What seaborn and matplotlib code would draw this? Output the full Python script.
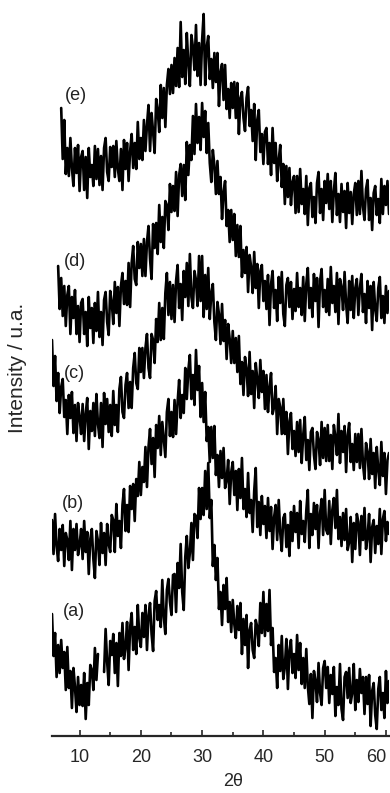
import numpy as np
import pandas as pd
import matplotlib
matplotlib.use("Agg")
import matplotlib.pyplot as plt
import seaborn as sns

nan = np.nan

# scan grid, 0.25 deg step
two_theta = np.linspace(5.5, 60.5, 221)

sample_names = ["(a)", "(b)", "(c)", "(d)", "(e)"]
offsets = [0, 150, 230, 380, 500]
label_x = [9.0, 8.95, 9.1, 9.25, 9.4]
label_y = [124, 233, 363, 474, 640]

intensity_a = [
    122, 80, 103, 59, 91, 63, 96, 68, 84, 46, 89, 48, 65, 28, 68, 49, 24, 59, 31, 51,
    30, 63, 17, 53, 31, 71, 66, 46, 88, 56, 82, nan, nan, nan, 64, 107, 74, 51, 95, 81,
    102, 63, 93, 50, 103, 80, 113, 77, 89, 114, 66, 109, 123, 86, 109, 82, 131, 98, 89, 123,
    99, 131, 86, 121, 133, 102, 85, 135, 145, 116, 131, 109, 156, 119, 102, 146, 157, 134, 121, 161,
    162, 124, 173, 148, 192, 144, 126, 179, 200, 168, 183, 213, 176, 222, 220, 198, 248, 217, 248, 221,
    265, 227, 273, 218, 236, 170, 191, 156, 178, 127, 144, 111, 151, 127, 158, 114, 134, 104, 136, 112,
    98, 130, 106, 133, 82, 117, 91, 121, 68, 106, 113, 86, 78, 116, 109, 90, 133, 103, 144, 100,
    132, 105, 146, 91, 108, 64, 78, 48, 91, 65, 100, 57, 69, 97, 47, 86, 96, 63, 82, 58,
    101, 66, 93, 52, 78, 48, 87, 50, 32, 62, 18, 65, 55, 34, 73, 43, 31, 68, 75, 48,
    69, 33, 61, 42, 69, 20, 49, 31, 72, 27, 16, 59, 64, 38, 68, 33, 43, 72, 26, 56,
    34, 67, 43, 59, 22, 59, 32, 61, 10, 45, 53, 21, 7, 47, 59, 26, 43, 18, 65, 33, 55,
]

intensity_b = [
    66, 32, 72, 40, 25, 57, 36, 61, 20, 53, 46, 26, 65, 16, 57, 36, 62, 31, 41, 57,
    27, 65, 34, 54, 12, 47, 57, 27, 8, 55, 45, 21, 63, 33, 53, 21, 62, 42, 34, 71,
    66, 34, 82, 50, 65, 38, 81, 97, 55, 81, 54, 100, 77, 102, 65, 107, 90, 124, 91, 119,
    104, 139, 99, 139, 157, 122, 148, 109, 161, 138, 170, 131, 164, 147, 129, 174, 187, 150, 174, 149,
    186, 152, 184, 206, 168, 191, 173, 218, 187, 216, 231, 187, 211, 181, 236, 196, 220, 169, 203, 164,
    194, 145, 159, 124, 159, 128, 160, 111, 131, 99, 135, 108, 138, 98, 106, 126, 82, 114, 124, 91,
    115, 76, 117, 88, 128, 77, 97, 69, 113, 73, 86, 54, 95, 118, 59, 84, 51, 90, 62, 80,
    48, 88, 55, 79, 37, 69, 81, 46, 86, 53, 35, 68, 72, 39, 61, 30, 74, 45, 80, 54,
    73, 38, 85, 52, 65, 44, 75, 96, 38, 72, 51, 83, 57, 81, 38, 73, 87, 51, 96, 56,
    52, 85, 42, 76, 88, 58, 96, 47, 69, 40, 73, 46, 77, 36, 44, 69, 24, 63, 37, 72,
    64, 31, 70, 46, 78, 37, 49, 72, 24, 59, 66, 33, 60, 42, 77, 32, 67, 75, 45, 64, 52,
]

intensity_c = [
    166, 120, 150, 105, 133, 93, 119, 127, 89, 106, 72, 111, 88, 114, 73, 101, 65, 103, 89, 72,
    102, 65, 92, 108, 57, 95, 75, 103, 70, 112, 82, 68, 103, 59, 113, 82, 107, 74, 101, 70,
    115, 81, 101, 74, 117, 129, 94, 88, 121, 133, 98, 124, 98, 138, 153, 123, 117, 158, 134, 158,
    128, 158, 172, 138, 128, 172, 166, 143, 187, 164, 203, 166, 198, 167, 213, 233, 191, 224, 187, 221,
    184, 225, 241, 198, 222, 186, 235, 209, 243, 200, 252, 209, 198, 235, 226, 200, 250, 205, 250, 189,
    231, 197, 238, 187, 213, 222, 184, 166, 204, 192, 162, 202, 165, 186, 147, 182, 167, 143, 175, 143,
    168, 134, 170, 122, 144, 111, 149, 137, 110, 154, 112, 135, 98, 143, 127, 108, 146, 114, 135, 97,
    131, 94, 119, 133, 92, 99, 120, 72, 107, 99, 72, 107, 72, 94, 52, 85, 93, 57, 75, 50,
    84, 54, 86, 43, 71, 89, 46, 66, 36, 74, 78, 51, 37, 74, 66, 41, 84, 48, 78, 45,
    81, 45, 71, 37, 81, 69, 51, 92, 43, 75, 54, 80, 34, 71, 83, 44, 62, 36, 72, 44,
    72, 38, 77, 42, 27, 63, 54, 27, 67, 32, 53, 18, 59, 36, 21, 64, 30, 53, 12, 46, 53,
]

intensity_d = [
    nan, nan, nan, nan, 90, 47, 78, 40, 70, 30, 61, 70, 22, 59, 38, 66, 22, 50, 14, 53,
    57, 22, 44, 10, 59, 28, 48, 13, 53, 25, 64, 19, 44, 11, 56, 64, 34, 21, 65, 54,
    32, 74, 43, 69, 30, 70, 83, 52, 75, 51, 93, 49, 93, 110, 77, 71, 114, 88, 112, 80,
    117, 80, 114, 130, 97, 77, 132, 108, 133, 102, 151, 114, 139, 108, 155, 151, 126, 172, 144, 170,
    145, 184, 140, 181, 192, 160, 191, 156, 214, 181, 211, 196, 240, 202, 252, 213, 239, 206, 253, 219,
    245, 203, 233, 193, 174, 206, 191, 162, 195, 162, 179, 137, 164, 175, 130, 146, 114, 146, 116, 142,
    100, 131, 99, 130, 79, 106, 83, 109, 64, 101, 89, 63, 104, 68, 92, 48, 85, 91, 55, 75,
    47, 81, 31, 72, 85, 48, 66, 35, 79, 53, 84, 42, 30, 71, 78, 49, 74, 37, 67, 45,
    83, 49, 68, 41, 79, 35, 72, 88, 48, 68, 39, 82, 55, 78, 29, 75, 87, 49, 66, 44,
    77, 41, 89, 53, 70, 44, 83, 32, 77, 69, 46, 84, 52, 33, 75, 46, 80, 38, 68, 77,
    41, 68, 82, 44, 62, 33, 75, 48, 70, 26, 74, 47, 35, 68, 79, 38, 60, 33, 70, 43, 65,
]

intensity_e = [
    nan, nan, nan, nan, nan, nan, 128, 77, 116, 62, 88, 60, 98, 68, 50, 88, 63, 91, 45, 79,
    85, 46, 79, 38, 88, 59, 71, 50, 90, 57, 87, 51, 80, 46, 88, 98, 64, 55, 89, 69,
    90, 59, 95, 67, 55, 87, 46, 96, 67, 93, 55, 85, 102, 68, 93, 67, 114, 77, 98, 76,
    116, 85, 111, 131, 85, 123, 104, 83, 137, 126, 104, 151, 118, 148, 109, 151, 167, 142, 171, 143,
    178, 150, 188, 149, 214, 159, 186, 152, 203, 172, 150, 201, 189, 166, 211, 160, 193, 151, 196, 222,
    151, 189, 200, 157, 177, 148, 183, 154, 183, 130, 164, 172, 136, 171, 127, 147, 118, 153, 128, 154,
    118, 153, 102, 138, 144, 118, 105, 138, 149, 110, 126, 95, 132, 76, 116, 126, 84, 102, 72, 104,
    108, 72, 93, 61, 108, 73, 93, 55, 76, 91, 49, 72, 32, 70, 39, 68, 31, 54, 60, 23,
    60, 24, 67, 32, 47, 22, 60, 11, 48, 53, 19, 39, 13, 53, 64, 23, 47, 16, 55, 33,
    62, 27, 55, 14, 45, 63, 21, 42, 14, 52, 24, 45, 8, 53, 23, 44, 12, 42, 53, 21,
    55, 22, 65, 29, 16, 47, 56, 16, 38, 6, 43, 50, 21, 37, 13, 57, 22, 50, 31, 55, 22,
]

all_intensities = [intensity_a, intensity_b, intensity_c, intensity_d, intensity_e]

# long-form table, a new segment starts after every gap in the scan
frames = []
for name, values, offset in zip(sample_names, all_intensities, offsets):
    values = np.asarray(values, dtype=float)
    segment = np.cumsum(np.isnan(values))
    frame = pd.DataFrame({
        "two_theta": two_theta,
        "intensity": values + offset,
        "segment": [f"{name}-{s}" for s in segment],
    })
    frames.append(frame.dropna())
df = pd.concat(frames, ignore_index=True)

sns.set_style("ticks")
plt.rcParams["font.family"] = ["Liberation Sans", "DejaVu Sans"]

fig = plt.figure(figsize=(3.9, 7.93), dpi=100)
ax = fig.add_axes([52 / 390, 57 / 793, 337 / 390, 736 / 793])

sns.lineplot(
    data=df,
    x="two_theta",
    y="intensity",
    units="segment",
    estimator=None,
    sort=False,
    color="black",
    linewidth=1.9,
    legend=False,
    ax=ax,
)

for name, lx, ly in zip(sample_names, label_x, label_y):
    ax.text(lx, ly, name, fontsize=13, ha="center", va="center", color="#222222")

ax.set_xlim(5.5, 60.5)
ax.set_ylim(0, 736)

for side in ["left", "top", "right"]:
    ax.spines[side].set_visible(False)
ax.spines["bottom"].set_linewidth(1.6)

ax.set_yticks([])
ax.set_xticks([10, 20, 30, 40, 50, 60], labels=["10", "20", "30", "40", "50", "60"])
ax.set_xticks([15, 25, 35, 45, 55], minor=True)
ax.tick_params(axis="x", which="both", direction="in", width=1.2, labelsize=13, pad=9)
ax.tick_params(axis="x", which="major", length=4)
ax.tick_params(axis="x", which="minor", length=3)
ax.get_xticklabels()[-1].set_horizontalalignment("right")

ax.set_xlabel("2θ", fontsize=13)
ax.xaxis.set_label_coords(0.537, -0.05)
ax.set_ylabel("Intensity / u.a.", fontsize=15)
ax.yaxis.set_label_coords(-0.074, 0.5)

fig.savefig("out.png", dpi=100)
